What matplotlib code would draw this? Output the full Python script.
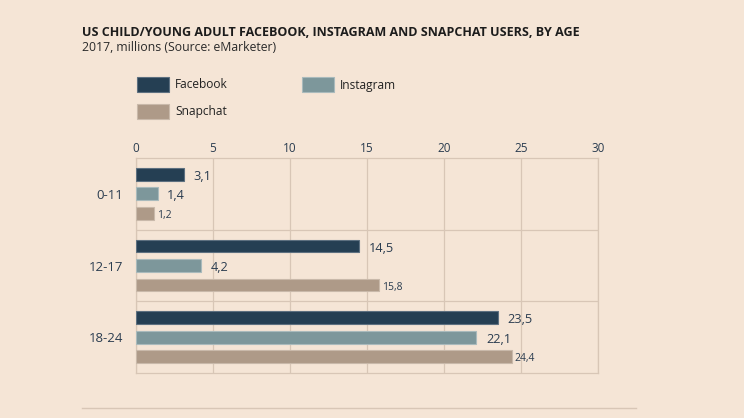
import matplotlib.pyplot as plt
from matplotlib.patches import Rectangle
from matplotlib.lines import Line2D
import numpy as np

# data
ages = ["0-11", "12-17", "18-24"]
facebook = [3.1, 14.5, 23.5]
instagram = [1.4, 4.2, 22.1]
snapchat = [1.2, 15.8, 24.4]

series = ["Facebook", "Instagram", "Snapchat"]
colors = ["#253f53", "#7d979b", "#ae9a88"]
edges = ["#5d7080", "#a9babc", "#c9b9aa"]

bg = "#f5e5d6"
grid_c = "#d8c6b6"
txt = "#2b3d50"

plt.rcParams['font.family'] = ['Open Sans', 'DejaVu Sans']

fig = plt.figure(figsize=(7.44, 4.18), dpi=100, facecolor=bg)
W, H = 744, 418
ax = fig.add_axes([136 / W, 1 - 373 / H, (598 - 136) / W, (373 - 158) / H])
ax.set_facecolor(bg)

y = np.arange(len(ages))
off = 0.272
h = 0.18
data = [facebook, instagram, snapchat]
for i, vals in enumerate(data):
    pos = y + (i - 1) * off
    ax.barh(pos, vals, height=h, color=colors[i], edgecolor=edges[i], linewidth=0.8, zorder=3)
    for p, v in zip(pos, vals):
        lab = f"{v:.1f}".replace(".", ",")
        if i == 2:
            ax.annotate(lab, (v, p), xytext=(2, -1.5), textcoords="offset points",
                        va="center", ha="left", fontsize=7.5, color=txt)
        else:
            ax.annotate(lab, (v, p), xytext=(7, -1.5), textcoords="offset points",
                        va="center", ha="left", fontsize=9.2, color=txt)

ax.set_xlim(0, 30)
ax.set_ylim(2.5, -0.5)
ax.set_xticks(range(0, 31, 5))
ax.xaxis.tick_top()
ax.tick_params(axis="x", length=0, pad=2, labelsize=8.5, colors=txt)
ax.set_yticks(y)
ax.set_yticklabels(ages)
ax.tick_params(axis="y", length=0, pad=9, labelsize=9.5, colors=txt)
ax.grid(axis="x", color=grid_c, linewidth=0.9, zorder=0)
for s in [0.5, 1.5]:
    ax.axhline(s, color=grid_c, linewidth=0.9, zorder=1)
for sp in ax.spines.values():
    sp.set_color(grid_c)
    sp.set_linewidth(0.9)

# titles
fig.text(82 / W, 1 - 33 / H, "US CHILD/YOUNG ADULT FACEBOOK, INSTAGRAM AND SNAPCHAT USERS, BY AGE",
         fontsize=9.0, fontweight="bold", color="#1c1c1c", va="center", ha="left")
fig.text(82 / W, 1 - 47.5 / H, "2017, millions (Source: eMarketer)",
         fontsize=8.8, color="#2a2a2a", va="center", ha="left")

# legend
leg = [(137, 84.5), (302, 84.5), (137, 111.5)]
for (lx, ly), name, c, e in zip(leg, series, colors, edges):
    fig.add_artist(Rectangle((lx / W, 1 - (ly + 7.5) / H), 32 / W, 15 / H,
                             facecolor=c, edgecolor=e, linewidth=0.8, transform=fig.transFigure))
    fig.text((lx + 38) / W, 1 - (ly + 0.5) / H, name, fontsize=8.6, color="#222222", va="center", ha="left")

fig.add_artist(Line2D([82 / W, 636 / W], [1 - 408 / H, 1 - 408 / H], color=grid_c, linewidth=1))

fig.savefig("out.png", dpi=100, facecolor=bg)
